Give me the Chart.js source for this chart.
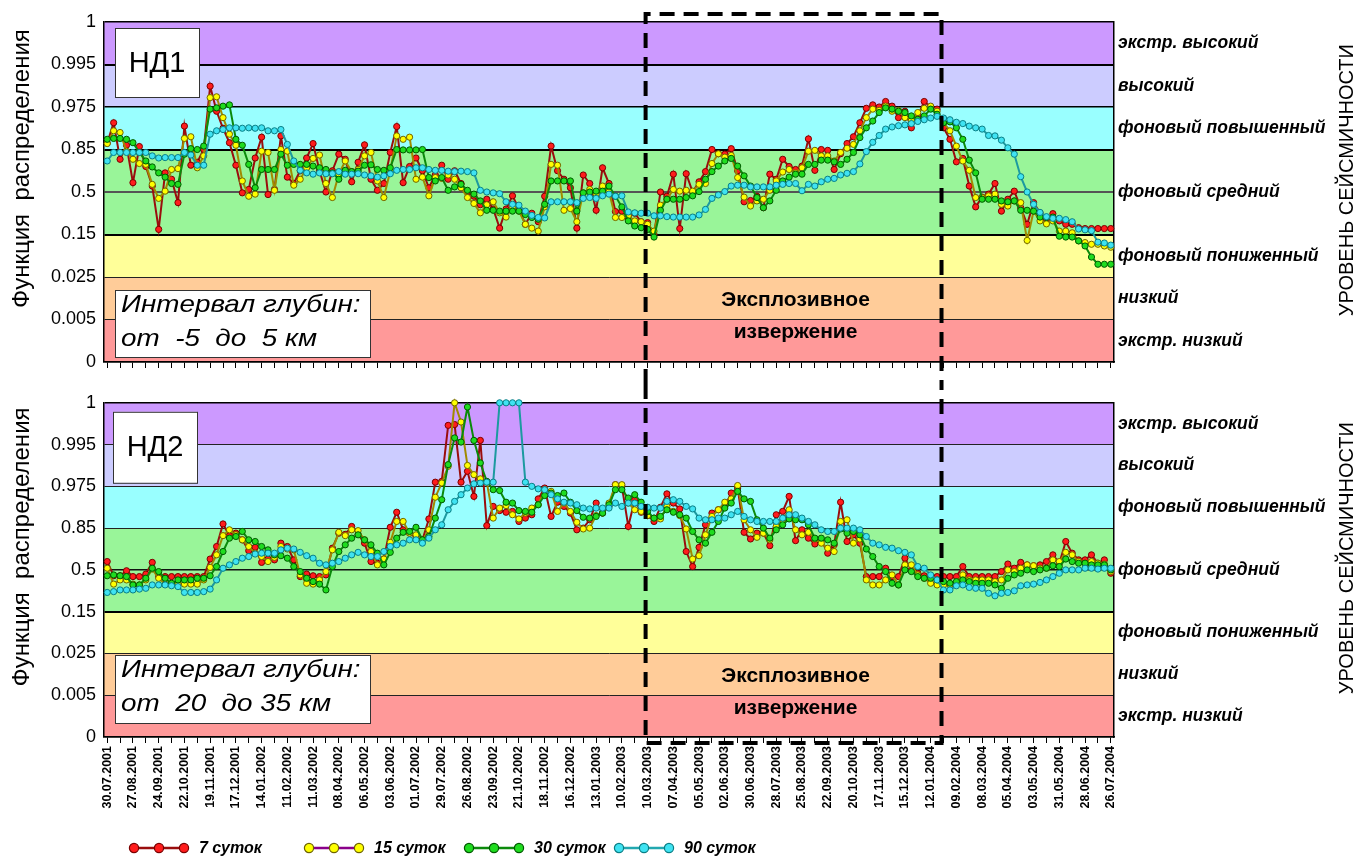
<!DOCTYPE html>
<html lang="ru">
<head>
<meta charset="utf-8">
<title>Уровень сейсмичности НД1, НД2</title>
<script src="https://cdn.jsdelivr.net/npm/chart.js@4.4.1/dist/chart.umd.min.js"></script>
<style>
  html, body { margin: 0; padding: 0; background: #fff; }
  #wrap { position: relative; width: 1357px; height: 858px; overflow: hidden; }
  #wrap canvas { position: absolute; left: 0; }
  #c1 { top: 0; }
  #c2 { top: 384px; }
  #legend { position: absolute; left: 0; top: 838px; width: 1357px; height: 20px; }
  .item { position: absolute; top: 0; height: 20px; display: flex; align-items: center;
          font: italic bold 16px Arial, "Liberation Sans", sans-serif; color: #000; white-space: nowrap; }
  .item svg { margin-right: 9px; }
</style>
</head>
<body>
<div id="wrap">
  <canvas id="c1" width="1357" height="384"></canvas>
  <canvas id="c2" width="1357" height="474"></canvas>
  <div id="legend"></div>
</div>
<script>
// ---- axis labels -------------------------------------------------------
// printed dates, one every 4 weeks; weekly values sit between them
const tickDates = ['30.07.2001','27.08.2001','24.09.2001','22.10.2001','19.11.2001','17.12.2001',
  '14.01.2002','11.02.2002','11.03.2002','08.04.2002','06.05.2002','03.06.2002','01.07.2002',
  '29.07.2002','26.08.2002','23.09.2002','21.10.2002','18.11.2002','16.12.2002','13.01.2003',
  '10.02.2003','10.03.2003','07.04.2003','05.05.2003','02.06.2003','30.06.2003','28.07.2003',
  '25.08.2003','22.09.2003','20.10.2003','17.11.2003','15.12.2003','12.01.2004','09.02.2004',
  '08.03.2004','05.04.2004','03.05.2004','31.05.2004','28.06.2004','26.07.2004'];

// distribution-function levels, one band per step of the vertical scale
const probTicks = ['0','0.005','0.025','0.15','0.5','0.85','0.975','0.995','1'];
const zoneNames = ['экстр. низкий','низкий','фоновый пониженный','фоновый средний',
  'фоновый повышенный','высокий','экстр. высокий'];
const zoneCenters = [0.5, 1.5, 2.5, 4, 5.5, 6.5, 7.5];
const zoneBounds = [[0,1],[1,2],[2,3],[3,5],[5,6],[6,7],[7,8]];
const zoneColors = ['#ff9999','#ffcc99','#ffff99','#99f599','#99ffff','#ccccff','#cc99ff'];

const seriesNames = ['7 суток','15 суток','30 суток','90 суток'];

// eruption period, in weeks counted from 30.07.2001
const eruptionSpan = [84, 130];

// ---- НД1: depth -5 … 5 km (values on the level scale 0…8) ----------------
const nd1_d7 = [
  5.15,5.63,4.77,5.1,4.22,5.07,4.6,4.14,3.12,4.45,
  4.3,3.75,5.55,4.63,4.7,5.0,6.49,5.9,5.5,5.16,
  4.63,3.98,4.06,4.8,5.29,3.94,4.06,5.32,4.35,4.2,
  4.5,4.8,5.14,4.5,4.0,4.5,4.89,4.77,4.24,4.7,
  5.11,4.3,4.04,4.2,4.93,5.54,4.22,4.6,4.8,4.5,
  4.1,4.4,4.63,4.3,4.5,4.2,4.0,3.9,3.7,3.83,
  3.6,3.15,3.6,3.91,3.6,3.24,3.5,3.3,3.9,5.08,
  4.5,4.3,4.1,3.15,4.4,4.2,3.57,4.57,4.2,3.54,
  3.55,3.4,3.5,3.3,3.28,3.0,4.0,3.9,4.42,3.14,
  4.43,4.0,4.24,4.48,5.0,4.9,4.89,5.02,4.5,3.77,
  3.8,3.9,3.63,4.42,4.3,4.77,4.6,4.53,4.61,5.25,
  4.51,5.0,4.98,4.53,4.9,5.14,5.3,5.63,5.97,6.05,
  6.0,6.13,6.02,5.75,5.9,5.51,5.79,6.13,6.0,5.95,
  5.51,5.24,4.71,4.79,4.14,3.65,3.88,3.95,4.2,3.55,
  3.83,4.02,3.63,3.24,3.75,3.51,3.36,3.49,3.32,3.24,
  3.24,3.16,3.14,3.14,3.14,3.14,3.14];
const nd1_d15 = [
  5.14,5.44,5.4,4.96,4.77,4.67,4.65,4.18,3.85,4.02,
  4.53,4.55,5.26,5.3,4.57,4.85,6.22,6.24,5.75,5.36,
  5.1,4.26,3.9,3.95,4.96,4.93,4.04,5.0,4.96,4.16,
  4.3,4.57,4.79,4.87,4.2,3.87,4.42,4.73,4.48,4.53,
  4.85,4.93,4.26,3.87,4.5,5.32,5.24,5.29,4.3,4.35,
  3.91,4.34,4.32,4.4,4.3,4.1,3.87,3.73,3.51,3.7,
  3.77,3.51,3.41,3.63,3.55,3.24,3.15,3.08,3.65,4.65,
  4.63,3.57,3.61,3.3,3.98,4.06,3.95,4.14,4.0,3.4,
  3.4,3.44,3.32,3.3,3.24,3.08,3.69,3.83,4.06,4.02,
  4.04,4.02,4.18,4.2,4.67,4.9,4.82,4.86,4.34,3.88,
  3.67,3.79,3.83,4.04,4.26,4.47,4.53,4.45,4.57,4.96,
  4.98,4.85,4.85,4.73,4.93,5.03,5.12,5.44,5.75,5.95,
  5.92,6.02,5.9,5.92,5.75,5.69,5.87,5.97,6.02,5.9,
  5.63,5.44,5.08,4.73,4.51,3.87,3.87,3.91,3.95,3.71,
  3.67,3.79,3.75,2.86,3.55,3.32,3.25,3.32,3.08,3.08,
  3.04,2.85,2.81,2.77,2.77,2.73,2.7];
const nd1_d30 = [
  5.24,5.26,5.26,5.24,5.16,4.93,4.73,4.59,4.45,4.35,
  4.2,4.18,4.89,5.02,5.0,5.08,5.95,5.98,6.02,6.05,
  5.24,5.1,4.65,4.1,4.53,4.53,4.53,4.89,4.63,4.65,
  4.65,4.65,4.61,4.57,4.53,4.45,4.3,4.51,4.48,4.49,
  4.63,4.64,4.53,4.51,4.57,5.0,4.99,4.99,4.99,5.0,
  4.34,4.26,4.34,4.04,4.12,4.18,4.04,3.95,3.79,3.57,
  3.57,3.55,3.55,3.55,3.55,3.47,3.4,3.36,3.71,4.26,
  4.26,4.26,4.26,3.55,3.98,4.0,4.02,4.02,4.14,3.9,
  3.65,3.32,3.2,3.16,3.12,2.94,3.57,3.83,3.83,3.83,
  3.87,3.91,4.01,4.3,4.48,4.61,4.73,4.79,4.61,4.38,
  4.14,3.87,3.63,3.79,4.04,4.26,4.35,4.42,4.42,4.65,
  4.65,4.75,4.75,4.71,4.65,4.77,4.93,5.28,5.51,5.67,
  5.87,5.98,5.95,5.9,5.87,5.79,5.71,5.79,5.95,5.83,
  5.63,5.65,5.51,5.24,4.75,4.45,3.83,3.83,3.83,3.79,
  3.77,3.79,3.57,3.57,3.55,3.41,3.4,3.41,2.96,2.94,
  2.94,2.85,2.73,2.47,2.3,2.3,2.3];
const nd1_d90 = [
  4.73,4.93,4.93,4.93,4.93,4.93,4.93,4.85,4.8,4.81,
  4.81,4.81,4.93,4.87,4.63,4.63,5.36,5.44,5.47,5.51,
  5.51,5.5,5.51,5.5,5.51,5.44,5.44,5.47,5.12,4.73,
  4.51,4.45,4.42,4.45,4.43,4.43,4.48,4.42,4.42,4.43,
  4.4,4.38,4.35,4.38,4.43,4.51,4.53,4.53,4.57,4.57,
  4.53,4.51,4.51,4.49,4.48,4.49,4.48,4.45,4.04,4.0,
  3.98,3.96,3.77,3.71,3.69,3.55,3.45,3.4,3.39,3.77,
  3.77,3.77,3.77,3.75,3.85,3.87,3.85,3.91,3.95,3.9,
  3.91,3.53,3.51,3.5,3.5,3.44,3.44,3.42,3.41,3.41,
  3.41,3.41,3.46,3.59,3.85,3.93,4.01,4.14,4.16,4.16,
  4.12,4.12,4.12,4.12,4.16,4.18,4.2,4.2,4.03,4.18,
  4.14,4.24,4.3,4.32,4.4,4.44,4.48,4.66,4.95,5.17,
  5.33,5.48,5.53,5.56,5.58,5.61,5.66,5.7,5.74,5.78,
  5.74,5.7,5.64,5.61,5.55,5.51,5.48,5.33,5.32,5.22,
  5.04,4.89,4.36,4.0,3.71,3.52,3.42,3.38,3.38,3.35,
  3.3,3.13,3.11,3.09,2.82,2.8,2.75];

// ---- НД2: depth 20 … 35 km ---------------------------------------------
const nd2_d7 = [
  4.2,3.86,3.86,3.98,3.84,3.84,3.9,4.18,3.84,3.84,
  3.84,3.84,3.84,3.84,3.84,3.84,4.26,4.56,5.1,4.82,
  4.88,4.72,4.46,4.54,4.18,4.26,4.24,4.64,4.56,4.24,
  3.84,3.9,3.86,3.84,3.88,4.52,4.88,4.85,5.04,4.85,
  4.64,4.2,4.16,4.26,5.02,5.38,4.96,4.88,4.8,4.72,
  5.22,6.1,6.12,7.46,7.48,6.1,6.36,5.76,7.1,5.06,
  5.52,5.42,5.38,5.4,5.16,5.24,5.32,5.7,5.96,5.28,
  5.62,5.52,5.36,4.96,5.0,5.2,5.6,5.36,5.52,6.04,
  6.0,5.04,5.68,5.38,5.3,5.16,5.5,5.82,5.6,5.46,
  4.44,4.08,4.54,5.08,5.36,5.44,5.52,5.84,5.96,4.9,
  4.74,4.88,4.88,4.58,5.32,5.4,5.76,4.7,4.96,4.76,
  4.62,4.72,4.4,4.6,5.62,4.68,4.84,4.64,3.84,3.84,
  3.84,4.04,3.84,3.84,4.28,4.0,3.92,3.86,3.84,3.84,
  3.84,3.84,3.84,4.08,3.84,3.84,3.84,3.84,3.84,3.96,
  4.14,4.04,4.18,4.12,4.1,4.12,4.2,4.36,4.16,4.68,
  4.4,4.24,4.24,4.36,4.16,4.24,3.92];
const nd2_d15 = [
  4.04,3.66,3.76,3.76,3.66,3.64,3.76,4.02,3.8,3.66,
  3.66,3.66,3.66,3.66,3.66,3.76,4.06,4.36,4.82,4.96,
  4.84,4.72,4.56,4.4,4.32,4.2,4.3,4.56,4.5,4.48,
  3.88,3.68,3.66,3.76,3.96,4.48,4.9,4.82,4.96,4.94,
  4.72,4.44,4.12,4.26,4.66,5.16,5.16,4.88,4.84,4.7,
  4.96,5.74,6.08,6.48,8.0,7.54,6.5,6.28,6.18,6.1,
  5.24,5.48,5.54,5.32,5.22,5.36,5.48,5.56,5.92,5.88,
  5.4,5.6,5.4,5.14,4.98,5.0,5.3,5.36,5.6,6.04,
  6.04,5.6,5.44,5.4,5.3,5.24,5.22,5.52,5.4,5.3,
  4.98,4.26,4.34,4.84,5.28,5.44,5.62,5.7,6.02,5.2,
  4.96,4.78,4.88,4.72,5.04,5.2,5.44,4.96,4.84,4.9,
  4.74,4.64,4.52,4.44,5.16,5.2,4.64,4.74,3.76,3.64,
  3.64,3.76,3.88,3.64,4.12,4.12,3.88,3.8,3.68,3.64,
  3.64,3.64,3.7,3.88,3.76,3.76,3.76,3.76,3.72,3.76,
  4.0,3.96,4.04,4.12,4.1,4.04,4.04,4.24,4.2,4.42,
  4.36,4.2,4.16,4.2,4.16,4.14,3.96];
const nd2_d30 = [
  3.86,3.88,3.86,3.84,3.64,3.64,3.8,4.04,3.96,3.8,
  3.68,3.76,3.76,3.76,3.8,3.8,3.86,4.08,4.44,4.76,
  4.8,4.92,4.72,4.68,4.56,4.48,4.36,4.34,4.28,4.08,
  3.96,3.8,3.72,3.66,3.52,4.08,4.44,4.6,4.76,4.84,
  4.72,4.6,4.4,4.12,4.42,4.76,4.9,4.92,5.02,4.72,
  4.8,5.24,5.68,6.52,7.16,7.06,7.9,7.1,6.56,6.12,
  5.92,5.9,5.62,5.6,5.42,5.4,5.38,5.56,5.78,5.84,
  5.78,5.84,5.62,5.42,5.26,5.24,5.28,5.36,5.56,5.92,
  5.92,5.72,5.8,5.62,5.4,5.24,5.28,5.44,5.38,5.32,
  5.24,4.92,4.72,4.64,4.9,5.16,5.48,5.6,5.88,5.7,
  5.64,5.2,5.0,4.76,4.96,5.08,5.22,5.2,5.2,5.08,
  4.76,4.76,4.72,4.64,4.98,4.88,4.92,4.84,4.5,4.32,
  4.08,3.96,3.68,3.64,4.0,3.96,3.84,3.8,3.8,3.76,
  3.72,3.68,3.72,3.76,3.72,3.68,3.68,3.68,3.64,3.56,
  3.8,3.88,3.92,4.0,3.96,4.0,4.04,4.1,4.08,4.26,
  4.2,4.16,4.16,4.12,4.12,4.12,4.0];
const nd2_d90 = [
  3.46,3.48,3.52,3.52,3.52,3.54,3.56,3.64,3.64,3.64,
  3.62,3.6,3.46,3.46,3.46,3.48,3.54,3.76,4.04,4.12,
  4.2,4.28,4.32,4.38,4.4,4.4,4.4,4.48,4.52,4.5,
  4.42,4.34,4.28,4.16,4.12,4.16,4.2,4.28,4.36,4.42,
  4.36,4.32,4.32,4.44,4.56,4.6,4.64,4.72,4.72,4.64,
  4.76,4.96,5.08,5.44,5.64,5.8,5.96,6.06,6.08,6.1,
  6.1,8.0,8.0,8.0,8.0,6.1,6.0,5.94,5.92,5.8,
  5.7,5.62,5.6,5.56,5.48,5.46,5.48,5.48,5.48,5.6,
  5.52,5.6,5.6,5.52,5.5,5.48,5.48,5.64,5.68,5.64,
  5.52,5.46,5.24,5.2,5.2,5.24,5.24,5.32,5.4,5.28,
  5.2,5.16,5.16,5.16,5.16,5.24,5.32,5.32,5.24,5.16,
  5.08,4.96,4.92,4.92,5.0,5.0,5.0,4.96,4.8,4.64,
  4.6,4.54,4.52,4.46,4.42,4.36,4.08,4.04,3.88,3.76,
  3.52,3.52,3.62,3.64,3.58,3.56,3.56,3.44,3.38,3.44,
  3.46,3.5,3.62,3.64,3.66,3.7,3.76,3.84,3.92,4.0,
  4.0,4.0,4.04,4.04,4.02,4.04,4.04];

// ---- series styling ----------------------------------------------------
const lineColors   = ['#9a0d0d', '#a08a00', '#0b8a0b', '#1c9aa0'];
const pointFills   = ['#ff1c1c', '#ffff00', '#1fdc1f', '#3fe3f2'];
const pointEdges   = ['#7a0000', '#6e6400', '#005a00', '#0a7f86'];
const legendLines  = ['#9a0d0d', '#8a008a', '#0b8a0b', '#22a8b0'];

// category labels: printed date every 4th week, blank in between
const weekLabels = [];
tickDates.forEach((d, k) => {
  weekLabels.push(d);
  if (k < tickDates.length - 1) weekLabels.push('', '', '');
});

const FONT = 'Arial, "Liberation Sans", sans-serif';
Chart.defaults.font.family = FONT;
Chart.defaults.color = '#000';

function makeDatasets(series) {
  return series.map((data, k) => ({
    label: seriesNames[k],
    data: data,
    borderColor: lineColors[k],
    backgroundColor: pointFills[k],
    borderWidth: 2,
    pointRadius: 3.1,
    pointBorderWidth: 1,
    pointBackgroundColor: pointFills[k],
    pointBorderColor: pointEdges[k],
    tension: 0,
    clip: 8,
    order: series.length - 1 - k
  }));
}

// text drawn slightly widened, as in the printed figure
function wideText(ctx, text, x, y, sx) {
  ctx.save();
  ctx.translate(x, y);
  ctx.scale(sx, 1);
  ctx.fillText(text, 0, 0);
  ctx.restore();
}

// band fills, captions, framed labels and the dashed eruption frame
function panelDecor(cfg) {
  return {
    id: 'panelDecor',
    beforeDraw(chart) {
      const { ctx, chartArea: a, scales: { y } } = chart;
      ctx.save();
      zoneBounds.forEach((b, k) => {
        const yt = y.getPixelForValue(b[1]);
        const yb = y.getPixelForValue(b[0]);
        ctx.fillStyle = zoneColors[k];
        ctx.fillRect(a.left, yt, a.right - a.left, yb - yt);
      });
      ctx.restore();
    },
    afterDatasetsDraw(chart) {
      const { ctx, chartArea: a, scales: { x, y } } = chart;
      ctx.save();
      ctx.lineWidth = 1;
      ctx.strokeStyle = '#333';
      ctx.fillStyle = '#fff';
      // panel tag
      const tb = cfg.tagBox;
      ctx.fillRect(a.left + tb[0], a.top + tb[1], tb[2], tb[3]);
      ctx.strokeRect(a.left + tb[0] + 0.5, a.top + tb[1] + 0.5, tb[2], tb[3]);
      ctx.fillStyle = '#000';
      ctx.font = '29px ' + FONT;
      ctx.textAlign = 'center';
      ctx.textBaseline = 'middle';
      ctx.fillText(cfg.tag, a.left + tb[0] + tb[2] / 2, a.top + tb[1] + tb[3] / 2 + 1);
      // depth interval
      const db = cfg.depthBox;
      const dTop = a.bottom - db[1] - db[3];
      ctx.fillStyle = '#fff';
      ctx.fillRect(a.left + db[0], dTop, db[2], db[3]);
      ctx.strokeRect(a.left + db[0] + 0.5, dTop + 0.5, db[2], db[3]);
      ctx.fillStyle = '#000';
      ctx.font = 'italic 24px ' + FONT;
      ctx.textAlign = 'left';
      wideText(ctx, cfg.depth[0], a.left + db[0] + 6, dTop + 15, 1.16);
      wideText(ctx, cfg.depth[1], a.left + db[0] + 6, dTop + 49, 1.16);
      // eruption caption
      const xm = (x.getPixelForValue(eruptionSpan[0]) + x.getPixelForValue(eruptionSpan[1])) / 2;
      ctx.font = 'bold 21px ' + FONT;
      ctx.textAlign = 'center';
      ctx.fillText('Эксплозивное', xm, y.getPixelForValue(1.46));
      ctx.fillText('извержение', xm, y.getPixelForValue(0.69));
      ctx.restore();
    },
    afterDraw(chart) {
      const { ctx, chartArea: a, scales: { x, y } } = chart;
      const H = chart.height;
      ctx.save();
      // vertical titles
      ctx.fillStyle = '#000';
      ctx.textAlign = 'center';
      ctx.textBaseline = 'middle';
      ctx.translate(22, y.getPixelForValue(4.55));
      ctx.rotate(-Math.PI / 2);
      ctx.font = '24px ' + FONT;
      ctx.fillText('Функция  распределения', 0, 0);
      ctx.setTransform(1, 0, 0, 1, 0, 0);
      ctx.translate(1347, y.getPixelForValue(4.28));
      ctx.rotate(-Math.PI / 2);
      ctx.font = '20px ' + FONT;
      ctx.fillText('УРОВЕНЬ СЕЙСМИЧНОСТИ', 0, 0);
      ctx.setTransform(1, 0, 0, 1, 0, 0);
      // dashed frame of the eruption period
      const x1 = x.getPixelForValue(eruptionSpan[0]) - 2;
      const x2 = x.getPixelForValue(eruptionSpan[1]) - 2;
      ctx.strokeStyle = '#000';
      ctx.lineWidth = 4;
      ctx.setLineDash([15, 9]);
      ctx.beginPath();
      if (cfg.frame === 'top') {
        const yt = a.top - 8;
        ctx.moveTo(x1, H); ctx.lineTo(x1, yt); ctx.lineTo(x2, yt); ctx.lineTo(x2, H);
      } else {
        const yb = a.bottom + 6;
        ctx.moveTo(x1, 0); ctx.lineTo(x1, yb); ctx.lineTo(x2, yb); ctx.lineTo(x2, 0);
      }
      ctx.stroke();
      ctx.restore();
    }
  };
}

function makeChart(canvasId, series, cfg) {
  const gridStyle = cfg.grid;
  return new Chart(document.getElementById(canvasId), {
    type: 'line',
    data: { labels: weekLabels, datasets: makeDatasets(series) },
    options: {
      responsive: false,
      animation: false,
      events: [],
      layout: { padding: { top: cfg.padTop, bottom: 0, left: 0, right: 0 } },
      plugins: { legend: { display: false }, tooltip: { enabled: false } },
      scales: {
        x: {
          type: 'category',
          offset: true,
          grid: {
            offset: false,
            drawOnChartArea: false,
            drawTicks: true,
            tickLength: 6,
            color: c => (c.index % 2 === 0 ? '#000' : 'rgba(0,0,0,0)'),
            lineWidth: 1
          },
          border: { display: true, color: '#000', width: 1.5 },
          ticks: {
            display: cfg.showDates,
            autoSkip: false,
            minRotation: 90,
            maxRotation: 90,
            padding: 3,
            font: { size: 12.5, weight: 'bold' }
          },
          afterFit: s => { s.height = cfg.xHeight; }
        },
        y: {
          type: 'linear',
          position: 'left',
          min: 0,
          max: 8,
          grid: {
            drawTicks: false,
            color: c => gridStyle[c.index][0],
            lineWidth: c => gridStyle[c.index][1]
          },
          border: { display: true, color: '#000', width: 1.5 },
          ticks: {
            stepSize: 1,
            padding: 8,
            font: { size: 18 },
            callback: v => probTicks[v]
          },
          afterFit: s => { s.width = 104; }
        },
        zones: {
          type: 'linear',
          position: 'right',
          min: 0,
          max: 8,
          grid: { drawOnChartArea: false, drawTicks: false },
          border: { display: true, color: '#000', width: 1.5 },
          afterBuildTicks: s => { s.ticks = zoneCenters.map(v => ({ value: v })); },
          ticks: {
            autoSkip: false,
            padding: 4,
            font: { size: 17.5, style: 'italic', weight: 'bold' },
            callback: v => zoneNames[zoneCenters.indexOf(v)]
          },
          afterFit: s => { s.width = 243; }
        }
      }
    },
    plugins: [panelDecor(cfg)]
  });
}

// grid line colour / width per level 0…8
makeChart('c1', [nd1_d7, nd1_d15, nd1_d30, nd1_d90], {
  tag: 'НД1',
  depth: ['Интервал глубин:', 'от  -5  до  5 км'],
  tagBox: [11, 6, 84, 69],
  depthBox: [11, 5, 255, 67],
  frame: 'top',
  padTop: 22,
  xHeight: 22,
  showDates: false,
  grid: [['#000',1.5],['#222',1],['#222',1],['#000',2],['#555',2],['#000',2],['#000',1.5],['#000',2],['#000',1.5]]
});

makeChart('c2', [nd2_d7, nd2_d15, nd2_d30, nd2_d90], {
  tag: 'НД2',
  depth: ['Интервал глубин:', 'от  20  до 35 км'],
  tagBox: [9, 9, 84, 71],
  depthBox: [11, 14, 255, 68],
  frame: 'bottom',
  padTop: 16,
  xHeight: 121,
  showDates: true,
  grid: [['#000',1.5],['#222',1],['#222',1],['#000',2],['#111',1.5],['#222',1],['#222',1],['#222',1],['#000',1.5]]
});

// legend: line with three markers, then the series name
const legendLefts = [128, 303, 463, 613];
const legendEl = document.getElementById('legend');
seriesNames.forEach((name, k) => {
  const item = document.createElement('div');
  item.className = 'item';
  item.style.left = legendLefts[k] + 'px';
  const svg =
    '<svg width="62" height="16" viewBox="0 0 62 16">' +
    '<line x1="6" y1="8" x2="56" y2="8" stroke="' + legendLines[k] + '" stroke-width="2.5"/>' +
    [6, 31, 56].map(cx => '<circle cx="' + cx + '" cy="8" r="4.6" fill="' + pointFills[k] +
      '" stroke="' + pointEdges[k] + '" stroke-width="1.2"/>').join('') +
    '</svg>';
  item.innerHTML = svg + '<span>' + name + '</span>';
  legendEl.appendChild(item);
});
</script>
</body>
</html>
